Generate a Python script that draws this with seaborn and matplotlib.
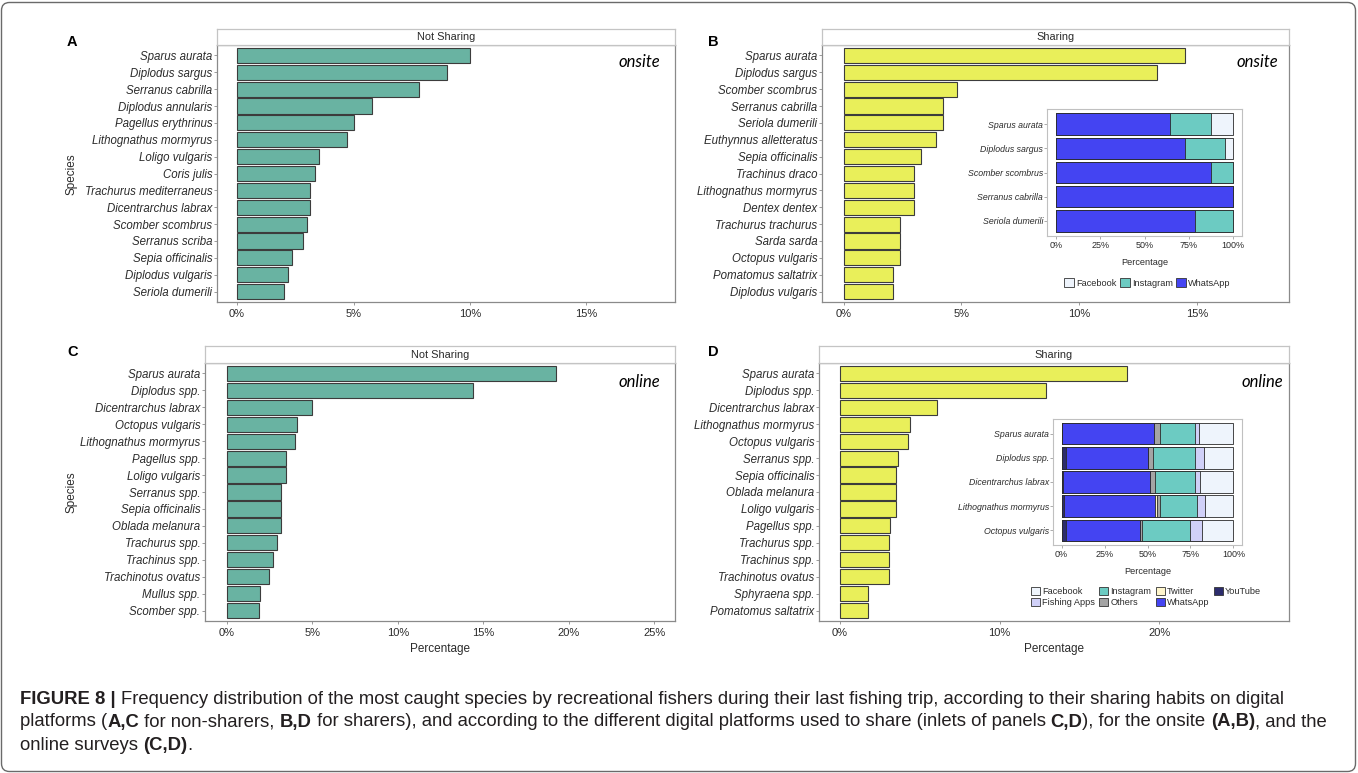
import matplotlib
matplotlib.use('Agg')
import matplotlib.pyplot as plt
import seaborn as sns
import numpy as np
import pandas as pd
from matplotlib.patches import Patch, FancyBboxPatch
from matplotlib.transforms import IdentityTransform
from matplotlib import font_manager

# ---------------- data ----------------
species_A = ['Sparus aurata', 'Diplodus sargus', 'Serranus cabrilla', 'Diplodus annularis',
             'Pagellus erythrinus', 'Lithognathus mormyrus', 'Loligo vulgaris', 'Coris julis',
             'Trachurus mediterraneus', 'Dicentrarchus labrax', 'Scomber scombrus',
             'Serranus scriba', 'Sepia officinalis', 'Diplodus vulgaris', 'Seriola dumerili']
pct_A = [10.0, 9.0, 7.8, 5.8, 5.0, 4.7, 3.5, 3.35, 3.15, 3.15, 3.0, 2.85, 2.35, 2.2, 2.0]

species_B = ['Sparus aurata', 'Diplodus sargus', 'Scomber scombrus', 'Serranus cabrilla',
             'Seriola dumerili', 'Euthynnus alletteratus', 'Sepia officinalis', 'Trachinus draco',
             'Lithognathus mormyrus', 'Dentex dentex', 'Trachurus trachurus', 'Sarda sarda',
             'Octopus vulgaris', 'Pomatomus saltatrix', 'Diplodus vulgaris']
pct_B = [14.5, 13.3, 4.8, 4.2, 4.2, 3.9, 3.3, 3.0, 3.0, 3.0, 2.4, 2.4, 2.4, 2.1, 2.1]

species_C = ['Sparus aurata', 'Diplodus spp.', 'Dicentrarchus labrax', 'Octopus vulgaris',
             'Lithognathus mormyrus', 'Pagellus spp.', 'Loligo vulgaris', 'Serranus spp.',
             'Sepia officinalis', 'Oblada melanura', 'Trachurus spp.', 'Trachinus spp.',
             'Trachinotus ovatus', 'Mullus spp.', 'Scomber spp.']
pct_C = [19.25, 14.4, 5.0, 4.1, 4.0, 3.45, 3.45, 3.2, 3.15, 3.15, 2.95, 2.7, 2.45, 1.95, 1.9]

species_D = ['Sparus aurata', 'Diplodus spp.', 'Dicentrarchus labrax', 'Lithognathus mormyrus',
             'Octopus vulgaris', 'Serranus spp.', 'Sepia officinalis', 'Oblada melanura',
             'Loligo vulgaris', 'Pagellus spp.', 'Trachurus spp.', 'Trachinus spp.',
             'Trachinotus ovatus', 'Sphyraena spp.', 'Pomatomus saltatrix']
pct_D = [18.0, 12.9, 6.1, 4.4, 4.3, 3.65, 3.55, 3.55, 3.5, 3.15, 3.1, 3.1, 3.1, 1.8, 1.8]

# inset of panel B (onsite sharers): share by platform (%)
inset_B_species = ['Sparus aurata', 'Diplodus sargus', 'Scomber scombrus',
                   'Serranus cabrilla', 'Seriola dumerili']
B_whatsapp = [64.3, 72.7, 87.5, 100.0, 78.6]
B_instagram = [23.2, 22.7, 12.5, 0.0, 21.4]
B_facebook = [12.5, 4.6, 0.0, 0.0, 0.0]

# inset of panel D (online sharers): share by platform (%)
inset_D_species = ['Sparus aurata', 'Diplodus spp.', 'Dicentrarchus labrax',
                   'Lithognathus mormyrus', 'Octopus vulgaris']
D_youtube = [0.0, 2.5, 0.8, 1.5, 2.3]
D_whatsapp = [53.7, 47.7, 50.7, 53.1, 43.3]
D_twitter = [0.0, 0.0, 0.0, 1.2, 0.0]
D_others = [3.8, 2.9, 2.7, 1.3, 1.1]
D_instagram = [19.9, 24.3, 23.2, 21.5, 28.0]
D_fishing = [2.3, 5.2, 3.3, 4.8, 7.2]
D_facebook = [20.3, 17.4, 19.3, 16.6, 18.1]

ticks_onsite = [0, 5, 10, 15]
ticks_C = [0, 5, 10, 15, 20, 25]
ticks_D = [0, 10, 20]
ticks_inset = [0, 25, 50, 75, 100]

# ---------------- style ----------------
sns.set_theme(style='white')
plt.rcParams['font.family'] = ['Liberation Sans', 'DejaVu Sans']
available = {f.name for f in font_manager.fontManager.ttflist}
CAPFONT = 'Liberation Sans Narrow' if 'Liberation Sans Narrow' in available else 'Liberation Sans'
SURVEYFONT = 'Lato' if 'Lato' in available else 'DejaVu Sans'

TEAL = '#69b3a2'
YELLOW = '#e9ef5a'
C_FACEBOOK = '#eef4fc'
C_FISHING = '#d0d0f8'
C_INSTAGRAM = '#6ccbc2'
C_OTHERS = '#a4a4a4'
C_TWITTER = '#fff6cc'
C_WHATSAPP = '#4444f2'
C_YOUTUBE = '#2c2c6c'
SPINE = '#8a8a8a'
TXT = '#2b2b2b'

W, H = 1358, 773
fig = plt.figure(figsize=(W / 100, H / 100), dpi=100)
fig.patch.set_facecolor('white')


def px_axes(l, t, r, b):
    return fig.add_axes([l / W, 1 - b / H, (r - l) / W, (b - t) / H])


def style_frame(ax, color=SPINE, lw=0.9):
    for s in ax.spines.values():
        s.set_visible(True)
        s.set_color(color)
        s.set_linewidth(lw)


def main_panel(box, strip_top, species, values, color, xlim, ticks, strip_text):
    l, t, r, b = box
    ax = px_axes(l, t, r, b)
    df = pd.DataFrame({'Species': species, 'Percentage': values})
    sns.barplot(data=df, x='Percentage', y='Species', orient='h', color=color,
                saturation=1, edgecolor='#3c3c3c', linewidth=0.8, width=0.9, ax=ax)
    ax.set_xlim(*xlim)
    ax.set_ylim(len(species) - 1 + 0.62, -0.62)
    ax.set_xticks(ticks)
    ax.set_xticklabels([f'{v}%' for v in ticks])
    ax.set_xlabel('')
    ax.set_ylabel('')
    ax.tick_params(axis='y', left=True, length=2.5, width=0.6, color=SPINE, pad=0.8,
                   labelsize=8.3, labelcolor=TXT)
    ax.tick_params(axis='x', bottom=True, length=2.5, width=0.6, color=SPINE, pad=2.5,
                   labelsize=8, labelcolor=TXT)
    for lab in ax.get_yticklabels():
        lab.set_fontstyle('italic')
    style_frame(ax)
    ax.grid(False)
    sax = px_axes(l, strip_top, r, t)
    sax.set_xticks([])
    sax.set_yticks([])
    sax.set_facecolor('white')
    style_frame(sax, '#c4c4c4', 0.9)
    sax.text(0.5, 0.5, strip_text, ha='center', va='center', fontsize=7.9, color=TXT,
             transform=sax.transAxes)
    return ax


def inset_panel(box, species, parts, colors):
    l, t, r, b = box
    ax = px_axes(l, t, r, b)
    parts = np.array(parts, dtype=float)
    frac = parts / parts.sum(axis=0) * 100
    cum = np.cumsum(frac, axis=0)
    for k in range(len(parts) - 1, -1, -1):
        df = pd.DataFrame({'Species': species, 'Percentage': cum[k]})
        sns.barplot(data=df, x='Percentage', y='Species', orient='h', color=colors[k],
                    saturation=1, edgecolor='#2a2a2a', linewidth=0.6, width=0.88, ax=ax)
    ax.set_xlim(-5, 105)
    ax.set_ylim(len(species) - 1 + 0.62, -0.62)
    ax.set_xticks(ticks_inset)
    ax.set_xticklabels([f'{v}%' for v in ticks_inset])
    ax.set_xlabel('')
    ax.set_ylabel('')
    ax.tick_params(axis='y', left=True, length=2, width=0.5, color=SPINE, pad=0.8,
                   labelsize=6.3, labelcolor=TXT)
    ax.tick_params(axis='x', bottom=True, length=2, width=0.5, color=SPINE, pad=1.5,
                   labelsize=6.5, labelcolor=TXT)
    for lab in ax.get_yticklabels():
        lab.set_fontstyle('italic')
    style_frame(ax, '#c0c0c0', 0.8)
    ax.set_facecolor('white')
    ax.grid(False)
    return ax


# ---------------- panels ----------------
main_panel((217, 45, 675, 302), 29, species_A, pct_A, TEAL, (-0.86, 18.8), ticks_onsite, 'Not Sharing')
main_panel((822, 45, 1289, 302), 29, species_B, pct_B, YELLOW, (-0.92, 18.9), ticks_onsite, 'Sharing')
main_panel((205, 363, 675, 621), 346, species_C, pct_C, TEAL, (-1.27, 26.2), ticks_C, 'Not Sharing')
main_panel((819, 363, 1289, 621), 346, species_D, pct_D, YELLOW, (-1.29, 28.1), ticks_D, 'Sharing')

inset_panel((1047, 109, 1242, 236), inset_B_species,
            [B_whatsapp, B_instagram, B_facebook],
            [C_WHATSAPP, C_INSTAGRAM, C_FACEBOOK])
inset_panel((1053, 419, 1242, 545), inset_D_species,
            [D_youtube, D_whatsapp, D_twitter, D_others, D_instagram, D_fishing, D_facebook],
            [C_YOUTUBE, C_WHATSAPP, C_TWITTER, C_OTHERS, C_INSTAGRAM, C_FISHING, C_FACEBOOK])


def ftext(x, y, s, **kw):
    return fig.text(x / W, 1 - y / H, s, **kw)


# axis titles
ftext(72, 174, 'Species', rotation=90, ha='center', va='center', fontsize=8.5, color=TXT)
ftext(72, 492, 'Species', rotation=90, ha='center', va='center', fontsize=8.5, color=TXT)
ftext(440, 649, 'Percentage', ha='center', va='center', fontsize=8.5, color=TXT)
ftext(1054, 649, 'Percentage', ha='center', va='center', fontsize=8.5, color=TXT)
ftext(1145, 262, 'Percentage', ha='center', va='center', fontsize=6.6, color=TXT)
ftext(1148, 571, 'Percentage', ha='center', va='center', fontsize=6.6, color=TXT)

# panel tags
for tag, x, y in [('A', 67, 42), ('B', 708, 42), ('C', 67, 352), ('D', 708, 352)]:
    ftext(x, y, tag, ha='left', va='center', fontsize=10.5, fontweight='bold', color='black')

# survey labels
for s, x, y in [('onsite', 660, 62), ('onsite', 1278, 62), ('online', 660, 382), ('online', 1283, 382)]:
    ftext(x, y, s, ha='right', va='center', fontsize=12, style='italic', color='black',
          family=SURVEYFONT)

# legends
def patch(c, lab):
    return Patch(facecolor=c, edgecolor='#333333', linewidth=0.6, label=lab)

leg_B = [patch(C_FACEBOOK, 'Facebook'), patch(C_INSTAGRAM, 'Instagram'), patch(C_WHATSAPP, 'WhatsApp')]
fig.legend(handles=leg_B, loc='upper left', bbox_to_anchor=(1064 / W, 1 - 278 / H), ncol=3,
           frameon=False, fontsize=6.6, handlelength=1.1, handleheight=1.1, handletextpad=0.25,
           columnspacing=0.3, borderpad=0, borderaxespad=0, labelcolor=TXT)
leg_D = [patch(C_FACEBOOK, 'Facebook'), patch(C_FISHING, 'Fishing Apps'),
         patch(C_INSTAGRAM, 'Instagram'), patch(C_OTHERS, 'Others'),
         patch(C_TWITTER, 'Twitter'), patch(C_WHATSAPP, 'WhatsApp'),
         patch(C_YOUTUBE, 'YouTube')]
fig.legend(handles=leg_D, loc='upper left', bbox_to_anchor=(1031 / W, 1 - 587 / H), ncol=4,
           frameon=False, fontsize=6.6, handlelength=0.95, handleheight=0.95, handletextpad=0.25,
           columnspacing=0.5, labelspacing=0.2, borderpad=0, borderaxespad=0, labelcolor=TXT)

# ---------------- caption ----------------
renderer = fig.canvas.get_renderer()
CAPCOL = '#231f20'


def piece_width(txt, size, bold):
    t = fig.text(0, 0, txt + '|', fontsize=size, fontweight='bold' if bold else 'normal', family=CAPFONT)
    t2 = fig.text(0, 0, '|', fontsize=size, fontweight='bold' if bold else 'normal', family=CAPFONT)
    w = t.get_window_extent(renderer).width - t2.get_window_extent(renderer).width
    t.remove()
    t2.remove()
    return w


def rich_line(x_px, y_px, pieces, size, draw=True):
    x = x_px
    for txt, bold in pieces:
        if draw:
            ftext(x, y_px, txt, fontsize=size, fontweight='bold' if bold else 'normal',
                  ha='left', va='center', color=CAPCOL, family=CAPFONT)
        x += piece_width(txt, size, bold)
    return x - x_px


line1 = [('FIGURE 8 | ', True),
         ('Frequency distribution of the most caught species by recreational fishers during their last fishing trip, '
          'according to their sharing habits on digital', False)]
line2 = [('platforms (', False), ('A,C', True), (' for non-sharers, ', False), ('B,D', True),
         (' for sharers), and according to the different digital platforms used to share (inlets of panels ', False),
         ('C,D', True), ('), for the onsite ', False), ('(A,B)', True), (', and the', False)]
line3 = [('online surveys ', False), ('(C,D)', True), ('.', False)]

w0 = rich_line(20, 700, line1, 10, draw=False)
cap_size = 10 * 1270 / w0
rich_line(20, 700, line1, cap_size)
rich_line(20, 722, line2, cap_size)
rich_line(20, 745, line3, cap_size)

# outer rounded border
border = FancyBboxPatch((1.5, 1.5), W - 4, H - 4, boxstyle='round,pad=0,rounding_size=8',
                        transform=IdentityTransform(), facecolor='none', edgecolor='#6a6a6a',
                        linewidth=1.0)
fig.patches.append(border)

fig.savefig('out.png', dpi=100, facecolor='white')
